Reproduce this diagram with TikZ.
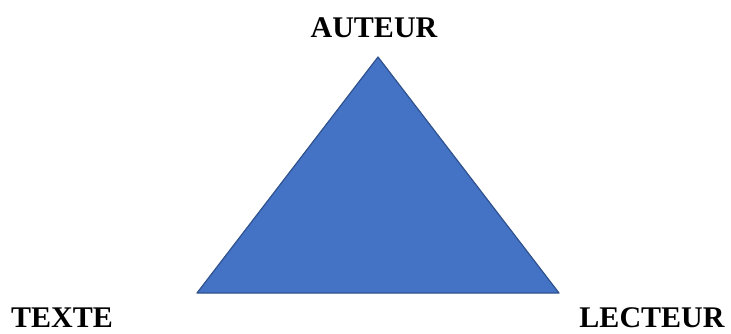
\documentclass[tikz,border=0pt]{standalone}
\usepackage{fontspec}
\setmainfont{Liberation Serif}
\definecolor{triblue}{HTML}{4472C4}
\definecolor{triedge}{HTML}{2F528F}
\tikzset{pole/.style={inner sep=0pt,font=\fontsize{30}{30}\selectfont\bfseries}}
\begin{document}
\begin{tikzpicture}[x=1pt,y=1pt]
\useasboundingbox (0,0) rectangle (731,333);
\coordinate(P1) at (378,276);
\coordinate(P2) at (197,40);
\coordinate(P3) at (559,40);
\draw[fill=triblue,draw=triedge,line width=1.2pt,line join=round](P1)--(P2)--(P3)--cycle;

\node[pole,anchor=base](A) at (374,296){AUTEUR};
\node[pole,anchor=base](T) at (62,6){TEXTE};
\node[pole,anchor=base](L) at (652,6){LECTEUR};
\end{tikzpicture}
\end{document}
